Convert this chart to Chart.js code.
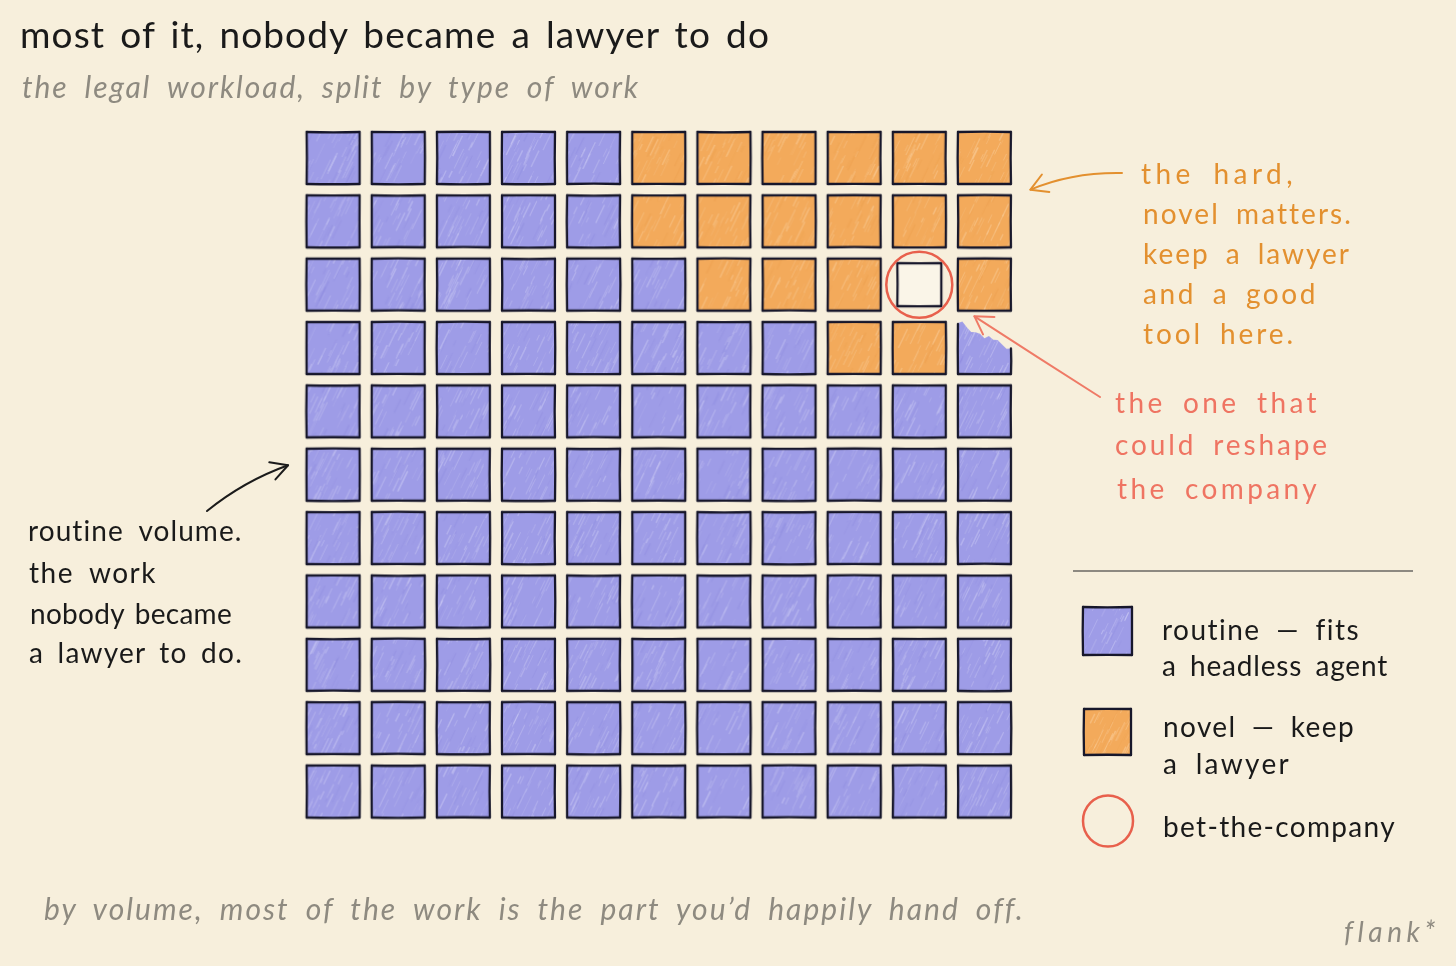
<!DOCTYPE html>
<html><head><meta charset="utf-8">
<script src="https://cdn.jsdelivr.net/npm/chart.js@4"></script>
<style>
html,body{margin:0;padding:0;background:#f7efdc;width:1456px;height:966px;overflow:hidden;}
#wrap{position:relative;width:1456px;height:966px;}
#c{position:absolute;left:0;top:0;}
.t{position:absolute;white-space:pre;font-family:Lato,'Open Sans',sans-serif;line-height:1;z-index:2;}
.lg{position:absolute;z-index:2;}
#rule{position:absolute;left:1073px;top:570px;width:340px;height:0;border-top:2px solid #8d8981;z-index:2;}
</style></head>
<body><div id="wrap"><canvas id="c" width="1456" height="966"></canvas><div id="rule"></div></div>
<script>
// ---- data ----
const gridRows = [
  'RRRRRNNNNNN',
  'RRRRRNNNNNN',
  'RRRRRRNNNBN',
  'RRRRRRRRNNT',
  'RRRRRRRRRRR',
  'RRRRRRRRRRR',
  'RRRRRRRRRRR',
  'RRRRRRRRRRR',
  'RRRRRRRRRRR',
  'RRRRRRRRRRR',
  'RRRRRRRRRRR'
];
const categoryCodes = ['R', 'N', 'B'];
const categoryLabels = ['routine — fits a headless agent', 'novel — keep a lawyer', 'bet-the-company'];
const tornCode = 'T'; // routine cell drawn with a torn edge
const columnTicks = [1,2,3,4,5,6,7,8,9,10,11];
const rowTicks = [1,2,3,4,5,6,7,8,9,10,11];

// ---- styling ----
const PURPLE = '#9e9ce7', PURPLE_HI = '#d4d3f7', PURPLE_DK = '#8682dc';
const ORANGE = '#f3aa5b', ORANGE_HI = '#fcd6a8', ORANGE_DK = '#ea9a46';
const RED = '#e8604c';

function hash(n){ const s = Math.sin(n*127.1 + 311.7)*43758.5453; return s - Math.floor(s); }

function makeCell(w, h, fill, hi, dk, seed, kind){
  const pad = 4;
  const c = document.createElement('canvas');
  c.width = w + pad*2; c.height = h + pad*2;
  const g = c.getContext('2d');
  const x0 = pad, y0 = pad, x1 = pad + w, y1 = pad + h;
  let tornEndY = y0;
  g.save();
  g.beginPath();
  if (kind === 'torn') {
    g.moveTo(x0, y0 + 1);
    const steps = 12;
    for (let i = 1; i <= steps; i++) {
      const px = x0 + w*i/steps;
      const py = y0 + 1 + (h*0.46)*(i/steps) + (hash(seed + i*3.1) - 0.5)*8;
      g.lineTo(px, py);
      if (i === steps) tornEndY = py;
    }
    g.lineTo(x1, y1); g.lineTo(x0, y1); g.closePath();
  } else {
    g.rect(x0, y0, w, h);
  }
  g.fillStyle = fill; g.fill();
  g.clip();
  if (hi) {
    for (let i = 0; i < 55; i++) {
      const sx = x0 - 12 + hash(seed*13.3 + i)*(w + 20);
      const sy = y0 + hash(seed*17.7 + i*3.3)*(h + 14);
      const len = 5 + hash(seed*7.1 + i*5.7)*18;
      const ang = -1.12;
      const dark = (i % 5 === 0);
      g.strokeStyle = dark ? dk : hi;
      g.globalAlpha = dark ? 0.12 + hash(seed + i*9.9)*0.15 : 0.15 + hash(seed + i*9.9)*0.3;
      g.lineWidth = 0.6 + hash(i*3.7 + seed)*1.0;
      g.beginPath(); g.moveTo(sx, sy);
      g.lineTo(sx + Math.cos(ang)*len, sy + Math.sin(ang)*len); g.stroke();
    }
    g.globalAlpha = 1;
  }
  g.restore();
  // sketchy border
  g.strokeStyle = '#17172b'; g.lineWidth = 2.3; g.lineCap = 'round'; g.lineJoin = 'round';
  const side = (ax, ay, bx, by, k) => {
    const mx = (ax + bx)/2 + (hash(seed*3 + k)-0.5)*1.4;
    const my = (ay + by)/2 + (hash(seed*5 + k)-0.5)*1.4;
    g.beginPath(); g.moveTo(ax, ay); g.quadraticCurveTo(mx, my, bx, by); g.stroke();
  };
  if (kind === 'torn') {
    side(x0, y0 + 2, x0, y1, 1);
    side(x0, y1, x1, y1, 2);
    side(x1, tornEndY, x1, y1, 3);
  } else {
    side(x0, y0, x1, y0, 1);
    side(x1, y0, x1, y1, 2);
    side(x1, y1, x0, y1, 3);
    side(x0, y1, x0, y0, 4);
  }
  return c;
}

// ---- build datasets from the grid ----
const routinePts = [], routineStyles = [];
const novelPts = [], novelStyles = [];
const betPts = [], betStyles = [];
gridRows.forEach((row, r) => {
  row.split('').forEach((code, cIdx) => {
    const pt = { x: columnTicks[cIdx], y: rowTicks[r] };
    const seed = r*11 + cIdx + 1;
    if (code === categoryCodes[0] || code === tornCode) {
      routinePts.push(pt);
      routineStyles.push(makeCell(53, 52, PURPLE, PURPLE_HI, PURPLE_DK, seed, code === tornCode ? 'torn' : 'cell'));
    } else if (code === categoryCodes[1]) {
      novelPts.push(pt);
      novelStyles.push(makeCell(53, 52, ORANGE, ORANGE_HI, ORANGE_DK, seed, 'cell'));
    } else if (code === categoryCodes[2]) {
      betPts.push(pt);
      betStyles.push(makeCell(44, 43, '#faf5e8', null, null, seed, 'cell'));
    }
  });
});

function drawArrow(ctx, tail, tip, ctrl, color, lw, spread, len){
  ctx.save();
  ctx.strokeStyle = color; ctx.lineWidth = lw; ctx.lineCap = 'round'; ctx.lineJoin = 'round';
  ctx.beginPath(); ctx.moveTo(tail[0], tail[1]);
  ctx.quadraticCurveTo(ctrl[0], ctrl[1], tip[0], tip[1]); ctx.stroke();
  const back = Math.atan2(ctrl[1] - tip[1], ctrl[0] - tip[0]);
  ctx.beginPath();
  ctx.moveTo(tip[0] + Math.cos(back - spread)*len, tip[1] + Math.sin(back - spread)*len);
  ctx.lineTo(tip[0], tip[1]);
  ctx.lineTo(tip[0] + Math.cos(back + spread)*len, tip[1] + Math.sin(back + spread)*len);
  ctx.stroke();
  ctx.restore();
}

const arrowsPlugin = {
  id: 'arrows',
  afterDatasetsDraw(chart){
    const { ctx, scales: { x, y } } = chart;
    const t1 = [x.getPixelForValue(1) - 45, y.getPixelForValue(5.85)];
    drawArrow(ctx, [207, 511], t1, [244, 481], '#1b1b1b', 2, 0.5, 19);
    const t2 = [x.getPixelForValue(11) + 46, y.getPixelForValue(1.5)];
    drawArrow(ctx, [1122, 173], t2, [1072, 172], '#e3902f', 2, 0.52, 19);
    const t3 = [x.getPixelForValue(11) - 10, y.getPixelForValue(3.5)];
    drawArrow(ctx, [1100, 397], t3, [1037, 357], '#ef7a66', 2, 0.55, 20);
  }
};

new Chart(document.getElementById('c'), {
  type: 'scatter',
  data: {
    datasets: [
      { label: categoryLabels[2] + ' ring', data: betPts, pointStyle: 'circle', pointRadius: 33,
        borderColor: RED, borderWidth: 2.5, backgroundColor: 'rgba(0,0,0,0)', order: 0, clip: false },
      { label: categoryLabels[2], data: betPts, pointStyle: betStyles, pointRadius: 22, order: 1, clip: false },
      { label: categoryLabels[1], data: novelPts, pointStyle: novelStyles, pointRadius: 26, order: 2, clip: false },
      { label: categoryLabels[0], data: routinePts, pointStyle: routineStyles, pointRadius: 26, order: 3, clip: false }
    ]
  },
  options: {
    responsive: false, animation: false, devicePixelRatio: 1, events: [],
    layout: { padding: { left: 300.5, right: 439, top: 126.3, bottom: 142.8 } },
    scales: {
      x: { type: 'linear', min: 0.5, max: 11.5, display: false },
      y: { type: 'linear', min: 0.5, max: 11.5, reverse: true, display: false }
    },
    plugins: { legend: { display: false }, tooltip: { enabled: false } }
  },
  plugins: [arrowsPlugin]
});

// ---- legend (custom, right side) ----
const wrap = document.getElementById('wrap');
function placeCanvas(cv, cx, cy){
  cv.className = 'lg';
  cv.style.left = (cx - cv.width/2) + 'px';
  cv.style.top = (cy - cv.height/2) + 'px';
  wrap.appendChild(cv);
}
placeCanvas(makeCell(49, 48, PURPLE, PURPLE_HI, PURPLE_DK, 301, 'cell'), 1107.5, 631);
placeCanvas(makeCell(47, 46, ORANGE, ORANGE_HI, ORANGE_DK, 302, 'cell'), 1107.5, 732);
(function(){
  const c = document.createElement('canvas'); c.width = 60; c.height = 60;
  const g = c.getContext('2d');
  g.strokeStyle = RED; g.lineWidth = 2.5;
  g.beginPath(); g.ellipse(30, 30, 25, 25.5, 0, 0, Math.PI*2); g.stroke();
  placeCanvas(c, 1107.5, 821);
})();

// ---- texts ----
const texts = [
  { t: 'most of it, nobody became a lawyer to do', x: 20, cy: 38, w: 750, size: 37, color: '#1a1a1a' },
  { t: 'the legal workload, split by type of work', x: 22, cy: 90, w: 618, size: 30, color: '#8e8a80', italic: true },
  { t: 'routine volume.', x: 28, cy: 534, w: 215, size: 28, color: '#1a1a1a' },
  { t: 'the work', x: 29, cy: 576, w: 128, size: 28, color: '#1a1a1a' },
  { t: 'nobody became', x: 30, cy: 617, w: 202, size: 28, color: '#1a1a1a' },
  { t: 'a lawyer to do.', x: 29, cy: 656, w: 214, size: 28, color: '#1a1a1a' },
  { t: 'the hard,', x: 1141, cy: 177, w: 156, size: 28, color: '#e3902f' },
  { t: 'novel matters.', x: 1143, cy: 217, w: 209, size: 28, color: '#e3902f' },
  { t: 'keep a lawyer', x: 1143, cy: 257, w: 208, size: 28, color: '#e3902f' },
  { t: 'and a good', x: 1143, cy: 297, w: 175, size: 28, color: '#e3902f' },
  { t: 'tool here.', x: 1143, cy: 337, w: 153, size: 28, color: '#e3902f' },
  { t: 'the one that', x: 1115, cy: 406, w: 205, size: 28, color: '#ef7462' },
  { t: 'could reshape', x: 1115, cy: 448, w: 215, size: 28, color: '#ef7462' },
  { t: 'the company', x: 1117, cy: 492, w: 203, size: 28, color: '#ef7462' },
  { t: 'routine — fits', x: 1162, cy: 633, w: 198, size: 28, color: '#1a1a1a' },
  { t: 'a headless agent', x: 1162, cy: 669, w: 226, size: 28, color: '#1a1a1a' },
  { t: 'novel — keep', x: 1163, cy: 730, w: 192, size: 28, color: '#1a1a1a' },
  { t: 'a lawyer', x: 1163, cy: 767, w: 128, size: 28, color: '#1a1a1a' },
  { t: 'bet-the-company', x: 1163, cy: 830, w: 233, size: 28, color: '#1a1a1a' },
  { t: 'by volume, most of the work is the part you\u2019d happily hand off.', x: 44, cy: 912, w: 980, size: 30, color: '#8e8a80', italic: true },
  { t: 'flank*', x: 1344, cy: 935, w: 96, size: 28, color: '#8e8a80', italic: true }
];
texts.forEach(o => {
  const d = document.createElement('div');
  d.className = 't';
  d.textContent = o.t;
  d.style.fontSize = o.size + 'px';
  d.style.color = o.color;
  if (o.italic) d.style.fontStyle = 'italic';
  d.style.left = o.x + 'px';
  d.style.top = (o.cy - 0.634*o.size) + 'px';
  wrap.appendChild(d);
  const nat = d.getBoundingClientRect().width;
  const n = o.t.length;
  const spaces = (o.t.match(/ /g) || []).length;
  const extra = o.w - nat;
  if (spaces > 0 && extra > 0) {
    d.style.wordSpacing = Math.min(7, extra*0.45/spaces) + 'px';
  }
  const got = d.getBoundingClientRect().width;
  d.style.letterSpacing = ((o.w - got)/n) + 'px';
});
</script>
</body></html>
